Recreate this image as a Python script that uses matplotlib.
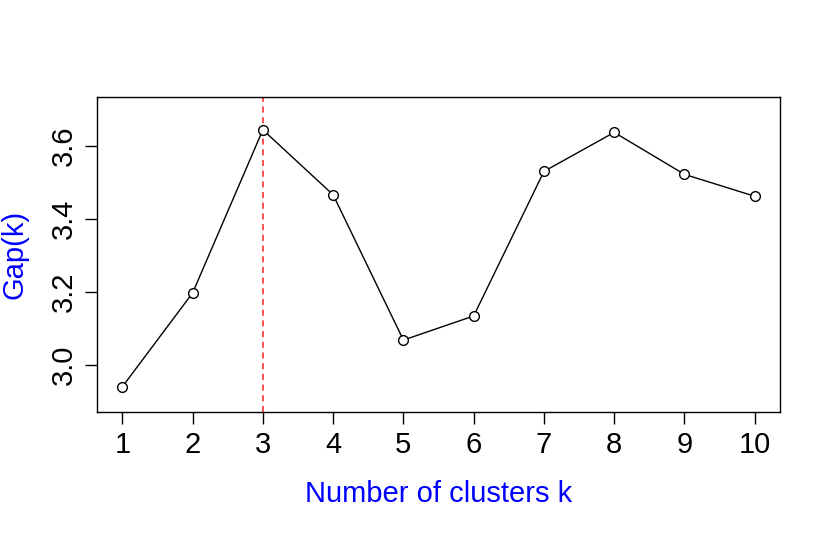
import matplotlib
matplotlib.use("Agg")
import matplotlib.pyplot as plt

k = [1, 2, 3, 4, 5, 6, 7, 8, 9, 10]
gap = [2.940, 3.197, 3.644, 3.466, 3.068, 3.134, 3.530, 3.637, 3.522, 3.462]
k_best = 3

plt.rcParams['font.family'] = ['Liberation Sans', 'DejaVu Sans']

fig = plt.figure(figsize=(8.3, 5.34), dpi=100)
ax = fig.add_axes([0.1169, 0.2285, 0.8229, 0.5899])

ax.plot(k, gap, '-', color='black', lw=1, zorder=2)
ax.plot(k, gap, 'o', mfc='white', mec='black', ms=7, mew=1, zorder=3)
ax.axvline(k_best, color='#ff2020', ls=(0, (4, 3)), lw=1.1, zorder=1)

ax.set_xlim(0.64, 10.36)
ax.set_ylim(2.871, 3.734)
ax.set_xticks(k)
ax.set_yticks([3.0, 3.2, 3.4, 3.6])
ax.set_yticklabels(['3.0', '3.2', '3.4', '3.6'], rotation=90, va='center')
ax.tick_params(direction='out', length=8.5, width=1, labelsize=21, pad=5)
for s in ax.spines.values():
    s.set_linewidth(1)

ax.set_xlabel('Number of clusters k', color='blue', fontsize=21, labelpad=15)
ax.set_ylabel('Gap(k)', color='blue', fontsize=21, labelpad=16)

fig.savefig('out.png', dpi=100)
